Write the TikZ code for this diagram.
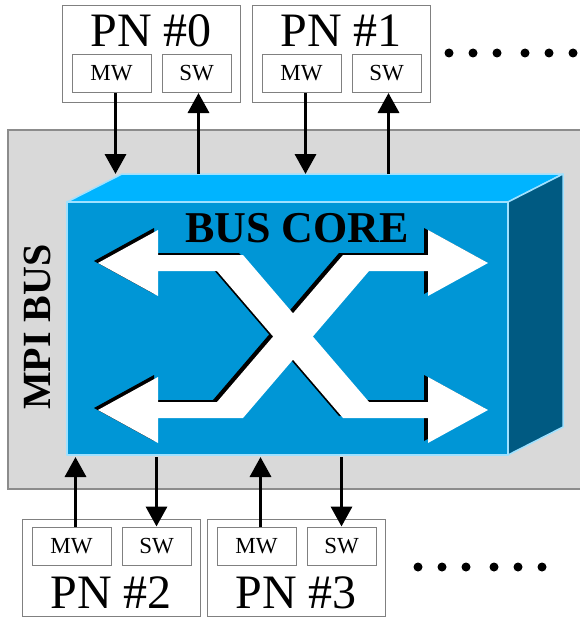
\documentclass[tikz,border=0pt]{standalone}
\usepackage{fontspec}
\setmainfont{Liberation Serif}
\usetikzlibrary{arrows.meta}

\definecolor{busgray}{RGB}{217,217,217}
\definecolor{coreface}{RGB}{0,150,214}
\definecolor{coretopface}{RGB}{0,180,255}
\definecolor{coreside}{RGB}{0,90,130}
\definecolor{coreedge}{RGB}{160,225,255}

\tikzset{
  pnbox/.style={draw=gray, line width=1pt, minimum width=178pt, minimum height=97pt, inner sep=0pt},
  wbox/.style={draw=gray, line width=1pt, minimum height=38pt, inner sep=0pt, font=\fontsize{23}{23}\selectfont},
  pnlabel/.style={anchor=base, inner sep=0pt, font=\fontsize{48}{48}\selectfont},
  sig/.style={line width=3.5pt, ->},
  faces/.style={draw=coreedge, line width=1.5pt, line join=round},
}

\begin{document}
\begin{tikzpicture}[x=1pt, y=-1pt, >={Triangle[length=20pt,width=21pt]}]
\useasboundingbox (0,0) rectangle (579,618);

% the bus
\filldraw[fill=busgray, draw=gray!90, line width=1.2pt] (8,130) rectangle (590,489);
\node[rotate=90, inner sep=0pt, font=\fontsize{40}{40}\selectfont\bfseries] (mpi) at (37,327) {MPI BUS};

% core block
\filldraw[faces, fill=coretopface] (67,202) -- (122,174) -- (563,174) -- (508,202) -- cycle;
\filldraw[faces, fill=coreside] (508,202) -- (563,174) -- (563,427) -- (508,455) -- cycle;
\filldraw[faces, fill=coreface] (67,202) rectangle (508,455);
\coordinate (topedge) at (0,174);
\coordinate (botedge) at (0,457);

% crossing arrows, shadow first
\foreach \dx/\dy/\col in {-4/-2/black, 0/0/white}
{
    \begin{scope}[shift={(\dx,\dy)}]
    \fill[\col] (98,263) -- (158,230) -- (158,255) -- (243,255) -- (369,402) -- (428,402)
        -- (428,377) -- (488,410) -- (428,443) -- (428,418) -- (343,418) -- (217,271)
        -- (158,271) -- (158,296) -- cycle;
    \fill[\col] (98,410) -- (158,377) -- (158,402) -- (217,402) -- (343,255) -- (428,255)
        -- (428,230) -- (488,263) -- (428,296) -- (428,271) -- (369,271) -- (243,418)
        -- (158,418) -- (158,443) -- cycle;
    \end{scope}
}
\node[inner sep=0pt, font=\fontsize{44}{44}\selectfont\bfseries] (core) at (297,228) {BUS CORE};

% processing nodes above
\foreach \n/\x in {0/62, 1/252}
{
    \node[pnbox] (pn\n) at (\x+89,54) {};
    \node[pnlabel] at (\x+89,47) {PN \#\n};
    \node[wbox, minimum width=79pt] (mw\n) at (\x+49.5,73.5) {MW};
    \node[wbox, minimum width=69pt] (sw\n) at (\x+134.5,73.5) {SW};
    \draw[sig] ([xshift=4pt]mw\n.south) -- ([xshift=4pt]mw\n.south |- topedge);
    \draw[sig] ([xshift=2pt]sw\n.south |- topedge) -- ([xshift=2pt]sw\n.south);
}

% processing nodes below
\foreach \n/\x in {2/22, 3/207}
{
    \node[pnbox] (pn\n) at (\x+89,567.5) {};
    \node[pnlabel] at (\x+89,608) {PN \#\n};
    \node[wbox, minimum width=79pt] (mw\n) at (\x+49.5,546) {MW};
    \node[wbox, minimum width=69pt] (sw\n) at (\x+134.5,546) {SW};
    \draw[sig] ([xshift=4pt]mw\n.north) -- ([xshift=4pt]mw\n.north |- botedge);
    \draw[sig] (sw\n.north |- botedge) -- (sw\n.north);
}

% more nodes
\foreach \d in {0,24,48,76,100,124}
{
    \fill (449+\d,53) circle (4.5pt);
    \fill (418+\d,567) circle (4.5pt);
}
\end{tikzpicture}
\end{document}
